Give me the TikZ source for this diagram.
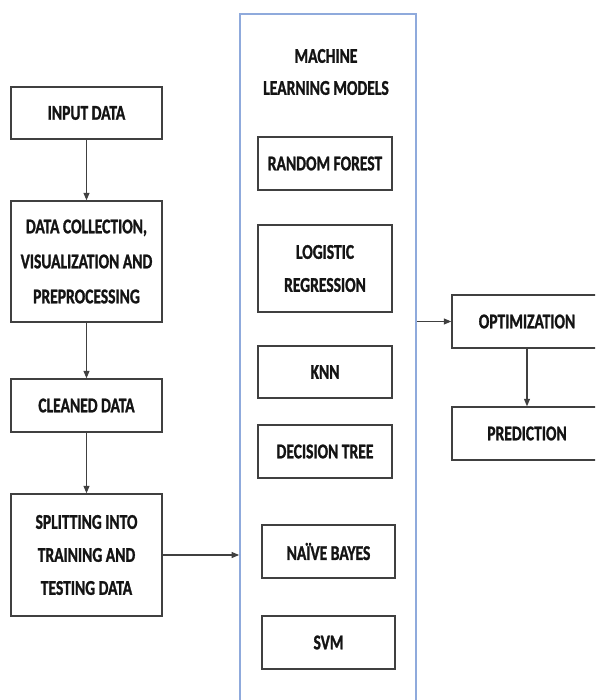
\documentclass[tikz,border=0pt]{standalone}
\usepackage{fontspec}
\setmainfont{Carlito}[FakeStretch=0.74, FakeBold=1.2]
\usetikzlibrary{arrows.meta}
\definecolor{boxline}{HTML}{404040}
\definecolor{mlblue}{HTML}{8FAADC}
\definecolor{txt}{HTML}{141414}
\tikzset{
  stepbox/.style={draw=boxline, line width=1.4pt, rectangle, inner sep=0pt, align=center,
    text=txt, font=\fontsize{21}{33}\selectfont\bfseries},
  conn/.style={draw=boxline, line width=1.1pt, -{Triangle[length=7.5pt,width=6pt]}},
}
\begin{document}
\begin{tikzpicture}[x=1pt,y=-1pt]
\useasboundingbox (0,0) rectangle (595,700);
\clip (0,0) rectangle (595,700);
% left column
\node[stepbox, minimum width=151pt, minimum height=52pt] (input) at (86.5,113) {INPUT DATA};
\node[stepbox, minimum width=151pt, minimum height=121pt, font=\fontsize{21}{35}\selectfont\bfseries] (collect) at (86.5,261.5) {DATA COLLECTION,\\VISUALIZATION AND\\PREPROCESSING};
\node[stepbox, minimum width=151pt, minimum height=53pt] (clean) at (86.5,405.5) {CLEANED DATA};
\node[stepbox, minimum width=151pt, minimum height=122pt] (split) at (86.5,555) {SPLITTING INTO\\TRAINING AND\\TESTING DATA};
% ML container
\node[draw=mlblue, line width=1.8pt, rectangle, minimum width=176pt, minimum height=706pt, inner sep=0pt] (ml) at (328,367) {};
\node[align=center, text=txt, font=\fontsize{21}{32}\selectfont\bfseries] (mltitle) at (326,72) {MACHINE\\LEARNING MODELS};
\node[stepbox, minimum width=134pt, minimum height=53pt] (rf) at (325,163.5) {RANDOM FOREST};
\node[stepbox, minimum width=134pt, minimum height=87pt] (lr) at (325,268.5) {LOGISTIC\\REGRESSION};
\node[stepbox, minimum width=134pt, minimum height=52pt] (knn) at (325,372) {KNN};
\node[stepbox, minimum width=134pt, minimum height=53pt] (dt) at (325,451.5) {DECISION TREE};
\node[stepbox, minimum width=133pt, minimum height=53pt] (nb) at (328.5,551.5) {NAÏVE BAYES};
\node[stepbox, minimum width=133pt, minimum height=53pt] (svm) at (328.5,642.5) {SVM};
% right column
\node[stepbox, minimum width=150pt, minimum height=53pt] (opt) at (527,321.5) {OPTIMIZATION};
\node[stepbox, minimum width=150pt, minimum height=53pt] (pred) at (527,433.5) {PREDICTION};
% connectors
\draw[conn] (input.south) -- (collect.north);
\draw[conn] (collect.south) -- (clean.north);
\draw[conn] (clean.south) -- (split.north);
\draw[conn] (split.east) -- (split.east -| ml.west);
\draw[conn] (ml.east |- opt.west) -- (opt.west);
\draw[conn] (opt.south) -- (pred.north);
\end{tikzpicture}
\end{document}
